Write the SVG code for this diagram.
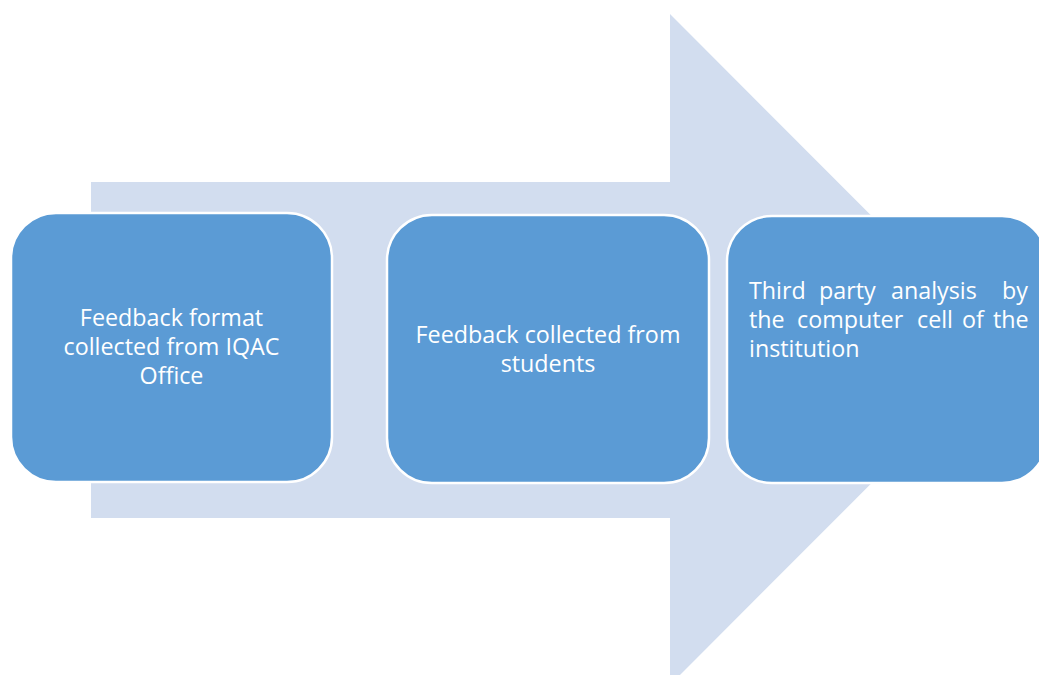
<svg xmlns="http://www.w3.org/2000/svg" width="1039" height="675" viewBox="0 0 1039 675">
<style>
.box{fill:#5B9BD5;stroke:#FFFFFF;stroke-width:2.5}
.t{font-family:"Open Sans","Liberation Sans",sans-serif;font-size:23.3px;fill:#FFFFFF}
.c{text-anchor:middle}
</style>
<rect width="1039" height="675" fill="#FFFFFF"/>
<g id="arrow">
<polygon points="91,182 670,182 670,14 1005,349.5 670,685 670,518 91,518" fill="#D2DDEF"/>
</g>
<g id="connectors"></g>
<g id="node1">
<rect class="box" x="11" y="213" width="321" height="269" rx="45" ry="45"/>
<text class="t c" x="171.5" y="326">Feedback format</text>
<text class="t c" x="171.5" y="355">collected from IQAC</text>
<text class="t c" x="171.5" y="384">Office</text>
</g>
<g id="node2">
<rect class="box" x="387" y="215" width="322" height="268" rx="45" ry="45"/>
<text class="t c" x="548" y="343">Feedback collected from</text>
<text class="t c" x="548" y="372">students</text>
</g>
<g id="node3">
<rect class="box" x="727" y="216" width="320" height="267" rx="45" ry="45"/>
<text class="t" y="299"><tspan x="749">Third</tspan> <tspan x="819">party</tspan> <tspan x="891">analysis</tspan> <tspan x="1002">by</tspan></text>
<text class="t" y="328"><tspan x="749">the</tspan> <tspan x="797">computer</tspan> <tspan x="917">cell</tspan> <tspan x="962">of</tspan> <tspan x="993">the</tspan></text>
<text class="t" x="749" y="357">institution</text>
</g>
</svg>
